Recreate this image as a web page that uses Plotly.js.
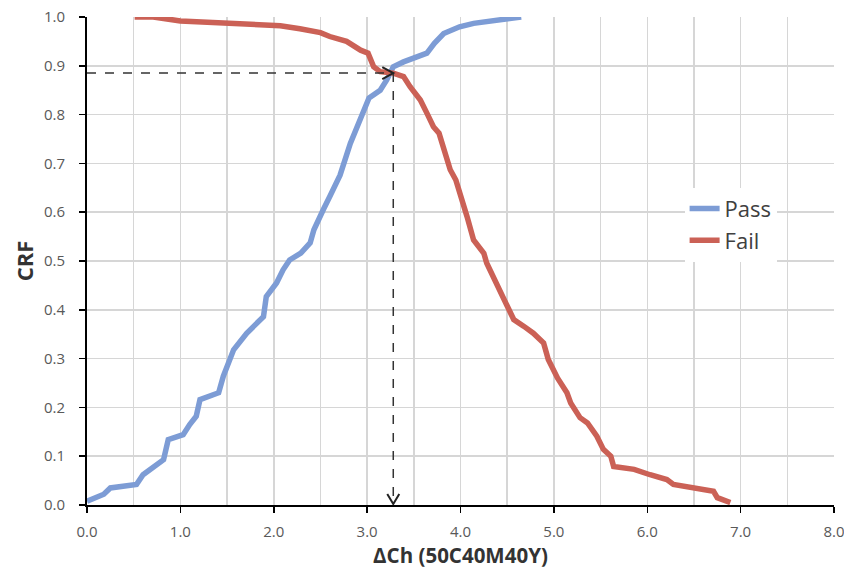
<!DOCTYPE html>
<html>
<head>
<meta charset="utf-8">
<script src="https://cdn.plot.ly/plotly-3.0.1.min.js"></script>
<style>html,body{margin:0;padding:0;background:#fff;}#chart{width:844px;height:569px;}</style>
</head>
<body>
<div id="chart"></div>
<script>
// Pass curve (cumulative relative frequency)
const passX = [0.00,0.10,0.18,0.25,0.53,0.60,0.71,0.82,0.87,1.03,1.10,1.17,1.21,1.41,1.46,1.53,1.57,1.71,1.89,1.92,2.03,2.10,2.17,2.29,2.39,2.43,2.49,2.53,2.60,2.71,2.82,2.89,2.96,3.02,3.14,3.21,3.28,3.39,3.64,3.72,3.82,3.99,4.14,4.65];
const passY = [0.008,0.015,0.022,0.035,0.042,0.062,0.079,0.093,0.134,0.144,0.165,0.182,0.216,0.230,0.264,0.298,0.318,0.352,0.386,0.427,0.455,0.482,0.502,0.516,0.537,0.564,0.591,0.605,0.632,0.676,0.741,0.775,0.810,0.834,0.850,0.871,0.898,0.908,0.926,0.946,0.966,0.980,0.987,1.000];
// Fail curve
const failX = [0.51,0.71,1.00,1.50,2.07,2.28,2.50,2.60,2.78,2.93,3.01,3.07,3.14,3.28,3.39,3.46,3.57,3.64,3.71,3.77,3.82,3.85,3.89,3.95,4.02,4.07,4.14,4.25,4.28,4.35,4.43,4.50,4.57,4.68,4.78,4.89,4.94,5.04,5.14,5.18,5.28,5.36,5.46,5.53,5.61,5.64,5.86,6.03,6.21,6.28,6.50,6.71,6.75,6.89];
const failY = [1.000,1.000,0.992,0.987,0.982,0.976,0.968,0.960,0.950,0.932,0.926,0.898,0.888,0.885,0.878,0.857,0.830,0.803,0.775,0.762,0.734,0.714,0.687,0.666,0.625,0.591,0.543,0.516,0.496,0.468,0.434,0.407,0.380,0.366,0.352,0.332,0.298,0.260,0.230,0.209,0.179,0.168,0.141,0.114,0.100,0.079,0.073,0.062,0.052,0.042,0.035,0.028,0.015,0.005];
// crossing point guide
const crossX = 3.28;
const crossY = 0.885;
const seriesNames = ["Pass", "Fail"];
const xTitle = "ΔCh (50C40M40Y)";
const yTitle = "CRF";

const FONT = '"Open Sans", "DejaVu Sans", sans-serif';

const traces = [
  {x: passX, y: passY, name: seriesNames[0], mode: 'lines', line: {color: '#7d9cd5', width: 5.5}},
  {x: failX, y: failY, name: seriesNames[1], mode: 'lines', line: {color: '#cb6156', width: 5.5}}
];

const layout = {
  width: 844, height: 569,
  margin: {l: 87, r: 10, t: 17, b: 63.5},
  paper_bgcolor: '#fff', plot_bgcolor: '#fff',
  showlegend: true,
  legend: {x: 0.80, y: 0.65, xanchor: 'left', yanchor: 'top', bgcolor: '#fff', borderwidth: 0,
           tracegroupgap: 0,
           font: {family: FONT, size: 22, color: '#404040'}},
  xaxis: {
    range: [0, 8], dtick: 1, tick0: 0, tickformat: '.1f',
    showgrid: true, gridcolor: '#d6d6d6', gridwidth: 1.5,
    minor: {dtick: 0.5, showgrid: true, gridcolor: '#d6d6d6', gridwidth: 1.5},
    showline: true, linecolor: '#000', linewidth: 2,
    ticks: 'outside', ticklen: 6, tickcolor: '#000', tickwidth: 1.5,
    ticklabelstandoff: 6, ticklabeloverflow: 'allow',
    zeroline: false,
    tickfont: {family: FONT, size: 15, color: '#595959'},
    title: {text: xTitle, font: {family: FONT, size: 20.5, color: '#333', weight: 'bold'}, standoff: 6}
  },
  yaxis: {
    range: [0, 1], dtick: 0.1, tick0: 0, tickformat: '.1f',
    showgrid: true, gridcolor: '#d6d6d6', gridwidth: 1.5,
    showline: true, linecolor: '#000', linewidth: 2,
    ticks: 'outside', ticklen: 6, tickcolor: '#000', tickwidth: 1.5,
    ticklabelstandoff: 11,
    zeroline: false,
    tickfont: {family: FONT, size: 15, color: '#595959'},
    title: {text: yTitle, font: {family: FONT, size: 22, color: '#333', weight: 'bold'}, standoff: 4}
  },
  shapes: [
    {type: 'line', xref: 'x', yref: 'y', x0: 0, x1: crossX, y0: crossY, y1: crossY,
     line: {color: '#333', width: 1.5, dash: 'dash'}},
    {type: 'line', xref: 'x', yref: 'y', x0: crossX, x1: crossX, y0: crossY, y1: 0,
     line: {color: '#333', width: 1.5, dash: 'dash'}},
    // arrowheads (pixel-sized chevrons anchored at the guide ends)
    {type: 'path', xref: 'x', yref: 'y', xsizemode: 'pixel', ysizemode: 'pixel',
     xanchor: crossX, yanchor: crossY, path: 'M-11,6 L0,0 L-11,-6',
     line: {color: '#222', width: 2}},
    {type: 'path', xref: 'x', yref: 'y', xsizemode: 'pixel', ysizemode: 'pixel',
     xanchor: crossX, yanchor: 0, path: 'M-6,11 L0,1 L6,11',
     line: {color: '#222', width: 2}}
  ]
};

Plotly.newPlot('chart', traces, layout, {displayModeBar: false, staticPlot: true});
</script>
</body>
</html>
